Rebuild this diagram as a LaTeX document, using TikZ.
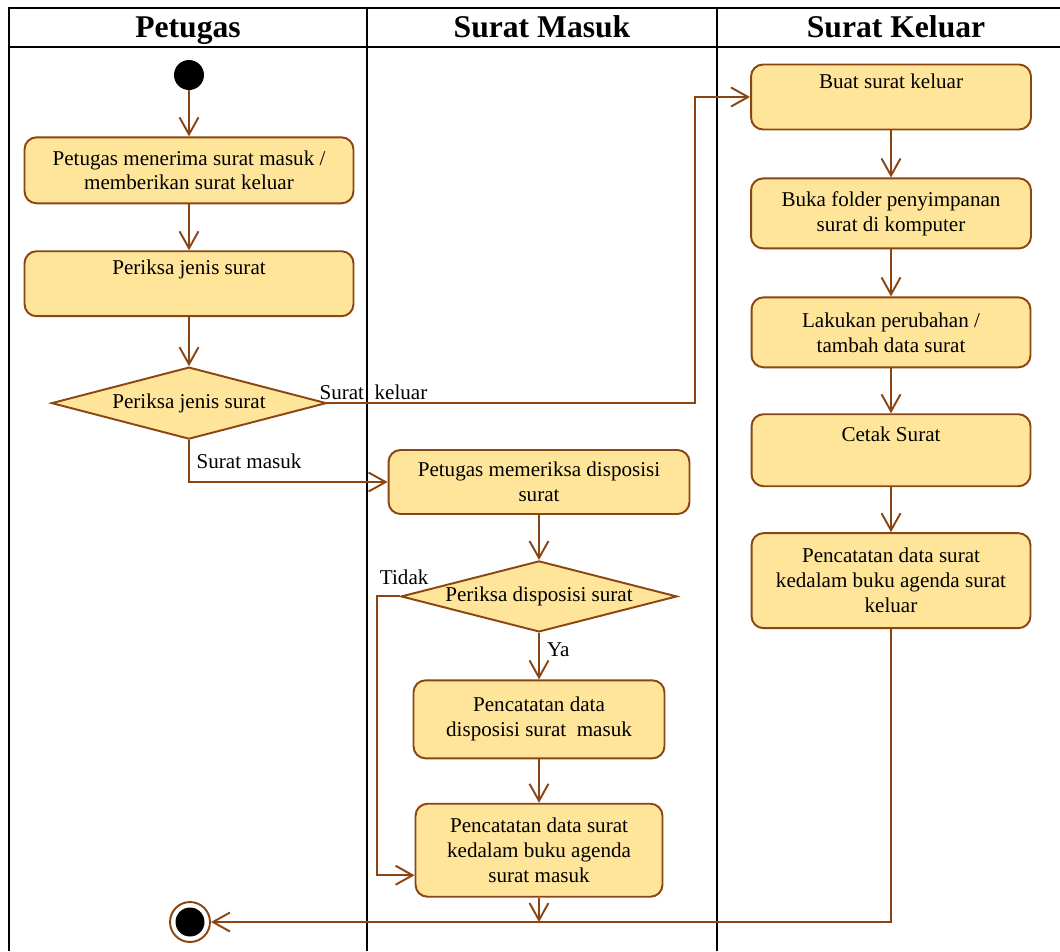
\documentclass[tikz,border=0pt]{standalone}
\usepackage{fontspec}
\setmainfont{Liberation Serif}
\usetikzlibrary{positioning,shapes.geometric,arrows.meta}

\definecolor{actfill}{HTML}{FFE599}
\definecolor{actline}{HTML}{8B4513}

\tikzset{
	lane/.style={draw=black, line width=1.1pt},
	lanehead/.style={anchor=base, font=\fontsize{18}{20}\selectfont\bfseries},
	action/.style={rectangle, rounded corners=2.4mm, draw=actline, fill=actfill, line width=1.1pt, align=center, inner sep=2pt, font=\fontsize{12}{14.2}\selectfont},
	decision/.style={diamond, aspect=3.8, draw=actline, fill=actfill, line width=1.1pt, inner sep=0pt, font=\fontsize{12}{14.2}\selectfont},
	initial/.style={circle, fill=black, inner sep=0pt, minimum size=0.6cm},
	final/.style={circle, draw=actline, fill=white, line width=1.1pt, inner sep=0pt, minimum size=0.8cm, path picture={\fill[black] (path picture bounding box.center) circle (0.29cm);}},
	flow/.style={draw=actline, line width=1.1pt, -{Straight Barb[length=3.4mm,width=3.8mm]}},
	guard/.style={font=\fontsize{12}{14.2}\selectfont, inner sep=1.5pt},
}

\begin{document}
\begin{tikzpicture}[x=0.02cm, y=-0.02cm, node distance=0.92cm]
	\useasboundingbox (0,0) rectangle (1060,951);
	\draw[lane] (1060,8) -- (9,8) -- (9,951);
	\draw[lane] (9,47) -- (1060,47);
	\draw[lane] (367,8) -- (367,951);
	\draw[lane] (717,8) -- (717,951);
	\node[lanehead] (hPetugas) at (188,37) {Petugas};
	\node[lanehead] (hMasuk) at (542,37) {Surat Masuk};
	\node[lanehead] (hKeluar) at (896,37) {Surat Keluar};

	\node[initial] (start) at (189,75) {};
	\node[action, below=of start, minimum width=6.58cm, minimum height=1.32cm] (b1) {Petugas menerima surat masuk /\\memberikan surat keluar};
	\node[action, below=of b1, minimum width=6.58cm, minimum height=1.3cm] (b2) {Periksa jenis surat\\\strut};
	\node[decision, below=0.98cm of b2, minimum width=5.5cm, minimum height=1.44cm] (d1) {\makebox[0pt]{Periksa jenis surat}};

	\node[action, minimum width=6.02cm, minimum height=1.28cm] (m1) at (539,482) {Petugas memeriksa disposisi\\surat};
	\node[decision, below=0.9cm of m1, minimum width=5.52cm, minimum height=1.42cm] (d2) {\makebox[0pt]{Periksa disposisi surat}};
	\node[action, below=0.93cm of d2, minimum width=5.02cm, minimum height=1.56cm] (m2) {Pencatatan data\\disposisi surat\ \ masuk};
	\node[action, below=0.87cm of m2, minimum width=4.94cm, minimum height=1.86cm] (m3) {Pencatatan data surat\\kedalam buku agenda\\surat masuk};

	\node[action, minimum width=5.6cm, minimum height=1.3cm] (k1) at (891,97) {Buat surat keluar\\\strut};
	\node[action, below=0.94cm of k1, minimum width=5.6cm, minimum height=1.4cm] (k2) {Buka folder penyimpanan\\surat di komputer};
	\node[action, below=0.94cm of k2, minimum width=5.58cm, minimum height=1.4cm] (k3) {Lakukan perubahan /\\tambah data surat};
	\node[action, below=0.9cm of k3, minimum width=5.58cm, minimum height=1.44cm] (k4) {Cetak Surat\\\strut};
	\node[action, below=0.9cm of k4, minimum width=5.58cm, minimum height=1.9cm] (k5) {Pencatatan data surat\\kedalam buku agenda surat\\keluar};

	\node[final] (endn) at (190,922) {};

	\coordinate (kbend) at (695,0);
	\coordinate (tbend) at (377,0);

	\draw[flow] (start) -- (b1);
	\draw[flow] (b1) -- (b2);
	\draw[flow] (b2) -- (d1);
	\draw[flow] (d1.east) node (lblKeluar) [guard, anchor=south west, xshift=-0.23cm] {Surat\ \ keluar} -- (d1.east -| kbend) |- (k1.west);
	\draw[flow] (d1.south) |- node (lblMasuk) [guard, pos=0, anchor=north west, xshift=0.08cm, yshift=-0.2cm] {Surat masuk} (m1.west);

	\draw[flow] (m1) -- (d2);
	\draw[flow] (d2.south) -- node (lblYa) [guard, right, pos=0.37, inner sep=4pt] {Ya} (m2.north);
	\draw[flow] (d2.west) -- (d2.west -| tbend) |- ([yshift=-0.5cm]m3.west);
	\node[guard, anchor=south west, yshift=0.18cm] (lblTidak) at (d2.west -| tbend) {Tidak};
	\draw[flow] (m2) -- (m3);
	\draw[flow] (m3.south) -- (m3.south |- endn.east);

	\draw[flow] (k1) -- (k2);
	\draw[flow] (k2) -- (k3);
	\draw[flow] (k3) -- (k4);
	\draw[flow] (k4) -- (k5);
	\draw[flow] (k5.south) |- (endn.east);
\end{tikzpicture}
\end{document}
